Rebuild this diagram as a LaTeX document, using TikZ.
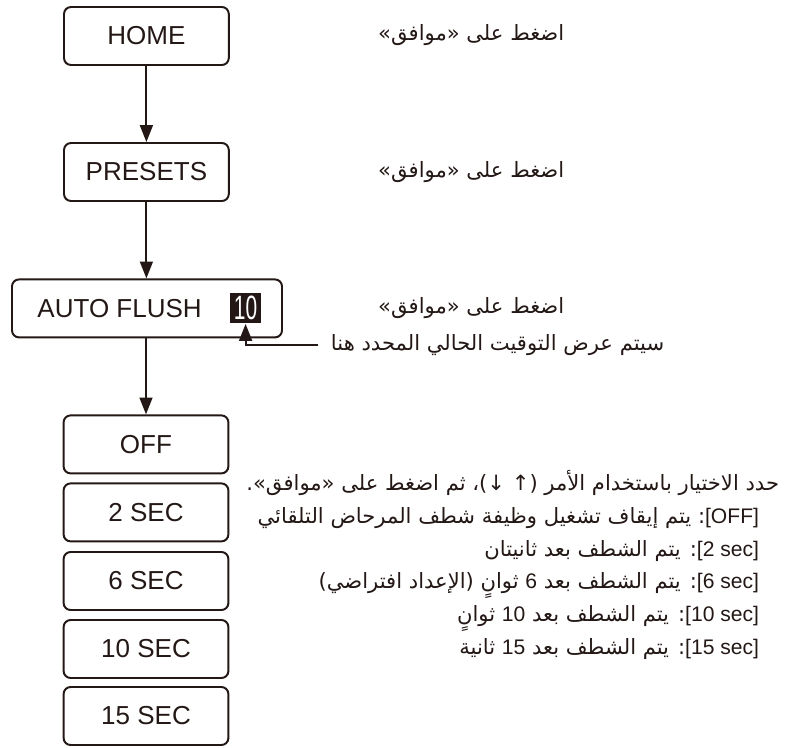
\documentclass[tikz,border=0pt]{standalone}
\usepackage{fontspec}
\setmainfont{Liberation Sans}
\newfontfamily\arabicfont[Script=Arabic]{DejaVu Sans}
\newfontfamily\narrowfont[FakeStretch=0.62]{Liberation Sans}
\TeXXeTstate=1
\usetikzlibrary{arrows.meta, positioning}
\definecolor{cink}{HTML}{231815}
\tikzset{
  every picture/.style={line width=1.4pt},
  box/.style={draw=cink, rounded corners=5pt, minimum width=4.12cm, minimum height=1.45cm, inner sep=0pt, text=cink, font=\fontsize{18.5}{22}\selectfont},
  arrow/.style={-{Triangle[length=4.2mm, width=3.2mm]}, draw=cink, line width=1.4pt},
  note/.style={font=\arabicfont\fontsize{15}{23.4}\selectfont, text=cink, inner sep=0pt},
  badge/.style={fill=cink, text=white, font=\narrowfont\fontsize{24}{24}\selectfont, minimum width=0.78cm, minimum height=0.75cm, inner sep=0pt},
}
\newcommand{\arline}[1]{\beginR #1\endR}
\newcommand{\latrun}[1]{\beginL{\normalfont #1}\endL}

\begin{document}
\begin{tikzpicture}
  \useasboundingbox (0,0) rectangle (20.15,-18.675);

  % menu path
  \node[box] (home)    at (3.66,-0.9)  {HOME};
  \node[box] (presets) at (3.66,-4.3)  {PRESETS};
  \node[box, minimum width=6.75cm] (auto) at (3.675,-7.71) {};
  \node[text=cink, font=\fontsize{18.5}{22}\selectfont] (autoname) at (2.99,-7.71) {AUTO FLUSH};
  \node[badge] (cur) at (6.14,-7.7) {10};
  \draw[arrow] (home) -- (presets);
  \draw[arrow] (presets) -- (presets |- auto.north);

  % settings
  \node[box] (off) at (3.65,-11.11)  {OFF};
  \node[box] (s2)  at (3.65,-12.81)  {2 SEC};
  \node[box] (s6)  at (3.65,-14.525) {6 SEC};
  \node[box] (s10) at (3.65,-16.225) {10 SEC};
  \node[box] (s15) at (3.65,-17.9)   {15 SEC};
  \draw[arrow] (auto.south -| off) -- (off);

  % right column
  \node[note] (ok1) at (11.78,-0.88) {\arline{اضغط على «موافق»}};
  \node[note] (ok2) at (11.78,-4.3)  {\arline{اضغط على «موافق»}};
  \node[note] (ok3) at (11.78,-7.71) {\arline{اضغط على «موافق»}};
  \node[note, anchor=west] (hint) at (8.25,-8.625) {\arline{سيتم عرض التوقيت الحالي المحدد هنا}};
  \draw[arrow] ([xshift=-3mm]hint.west) -| (cur.south);

  \node[note, anchor=east, align=right] (howto) at (19.5,-14.125) {%
    \arline{حدد الاختيار باستخدام الأمر (↑ ↓)، ثم اضغط على «موافق».}\\
    \arline{\latrun{[OFF]}: يتم إيقاف تشغيل وظيفة شطف المرحاض التلقائي}\kern5mm\\
    \arline{\latrun{[2 sec]}: يتم الشطف بعد ثانيتان}\kern5mm\\
    \arline{\latrun{[6 sec]}: يتم الشطف بعد \latrun{6} ثوانٍ (الإعداد افتراضي)}\kern5mm\\
    \arline{\latrun{[10 sec]}: يتم الشطف بعد \latrun{10} ثوانٍ}\kern5mm\\
    \arline{\latrun{[15 sec]}: يتم الشطف بعد \latrun{15} ثانية}\kern5mm};
\end{tikzpicture}
\end{document}
